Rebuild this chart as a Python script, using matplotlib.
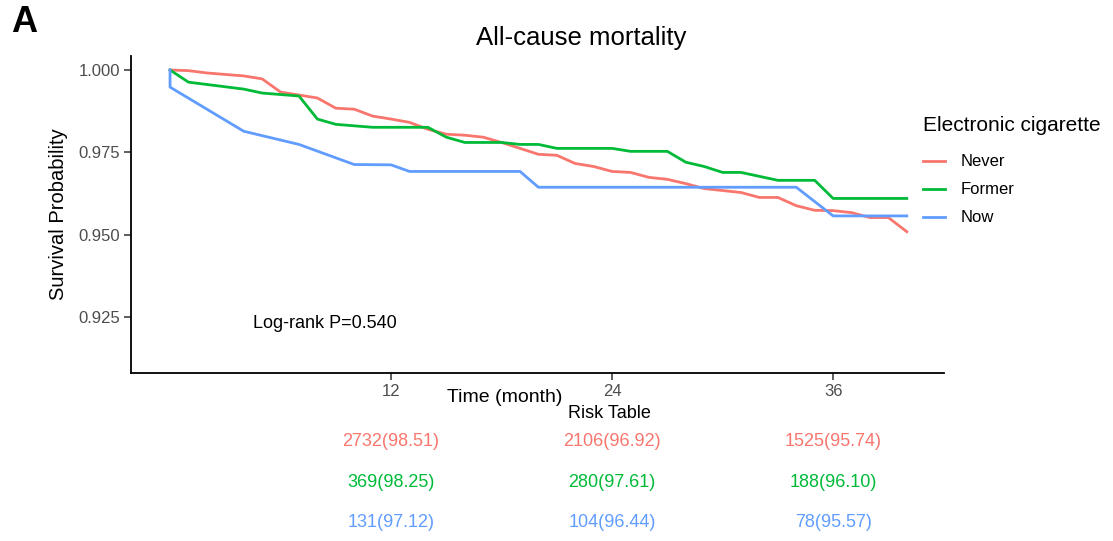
import matplotlib
matplotlib.use("Agg")
import matplotlib.pyplot as plt

plt.rcParams["font.family"] = ["Liberation Sans", "DejaVu Sans"]

# Kaplan-Meier estimates per group (month, survival)
groups = ["Never", "Former", "Now"]
colors = ["#F8766D", "#00BA38", "#619CFF"]

never_t = [0, 1, 2, 4, 5, 6, 7, 8, 9, 10, 11, 12, 13, 14, 15, 16, 17, 18, 19, 20,
           21, 22, 23, 24, 25, 26, 27, 28, 29, 30, 31, 32, 33, 34, 35, 36, 37, 38, 39, 40]
never_s = [1.000, 0.9998, 0.9991, 0.9982, 0.9973, 0.9933, 0.9924, 0.9915, 0.9884, 0.9881,
           0.9860, 0.9851, 0.9841, 0.9820, 0.9805, 0.9802, 0.9796, 0.9780, 0.9762, 0.9744,
           0.9741, 0.9716, 0.9707, 0.9692, 0.9689, 0.9674, 0.9668, 0.9655, 0.9640, 0.9634,
           0.9628, 0.9613, 0.9613, 0.9588, 0.9574, 0.9573, 0.9567, 0.9552, 0.9552, 0.9509]

former_t = [0, 1, 4, 5, 7, 8, 9, 11, 14, 15, 16, 18, 19, 20, 21, 24, 25, 27, 28, 29,
            30, 31, 32, 33, 35, 36, 40]
former_s = [1.000, 0.9963, 0.9942, 0.9930, 0.9921, 0.9851, 0.9835, 0.9826, 0.9826, 0.9796,
            0.9780, 0.9780, 0.9774, 0.9774, 0.9762, 0.9762, 0.9753, 0.9753, 0.9720, 0.9707,
            0.9689, 0.9689, 0.9677, 0.9665, 0.9665, 0.9610, 0.9610]

now_t = [0, 0, 4, 7, 10, 12, 13, 19, 20, 34, 36, 40]
now_s = [1.000, 0.9948, 0.9814, 0.9774, 0.9713, 0.9712, 0.9692, 0.9692, 0.9644, 0.9644,
         0.9557, 0.9557]

# risk table: number at risk (survival %) at 12/24/36 months
table_times = [12, 24, 36]
never_risk = ["2732(98.51)", "2106(96.92)", "1525(95.74)"]
former_risk = ["369(98.25)", "280(97.61)", "188(96.10)"]
now_risk = ["131(97.12)", "104(96.44)", "78(95.57)"]

curves = [(never_t, never_s), (former_t, former_s), (now_t, now_s)]
risk_rows = [never_risk, former_risk, now_risk]

W, H = 1113, 541
fig = plt.figure(figsize=(W / 100, H / 100), dpi=100)

ax = fig.add_axes([131 / W, 1 - 373 / H, 813 / W, 317 / H])
for (t, s), name, c in zip(curves, groups, colors):
    ax.plot(t, s, color=c, lw=2.0, label=name, solid_joinstyle="round")

ax.set_xlim(-2.12, 42.02)
ax.set_ylim(0.9080, 1.00425)
ax.set_xticks(table_times)
ax.set_yticks([0.925, 0.950, 0.975, 1.000])
ax.set_yticklabels(["0.925", "0.950", "0.975", "1.000"])
for side in ["top", "right"]:
    ax.spines[side].set_visible(False)
for side in ["left", "bottom"]:
    ax.spines[side].set_linewidth(1.3)
ax.tick_params(axis="both", length=5, width=1.1, color="#333333",
               labelcolor="#4D4D4D", labelsize=12, pad=3)
ax.set_ylabel("Survival Probability", fontsize=14.5, labelpad=7)

ax.text(4.5, 0.9231, "Log-rank P=0.540", fontsize=13, va="center", ha="left")

fig.text(505 / W, 1 - 397 / H, "Time (month)", fontsize=14, ha="center", va="center")
fig.text(581 / W, 1 - 38 / H, "All-cause mortality", fontsize=18.5, ha="center", va="center")
fig.text(24 / W, 1 - 22 / H, "A", fontsize=26, fontweight="bold", ha="center", va="center")
fig.text(609 / W, 1 - 414 / H, "Risk Table", fontsize=13, ha="center", va="center")

leg = fig.legend(loc="upper left", bbox_to_anchor=(908 / W, 1 - 101 / H), frameon=False,
                 fontsize=12, title="Electronic cigarette", title_fontsize=15,
                 handlelength=1.3, handletextpad=0.95, labelspacing=0.78)
leg._legend_box.align = "left"
leg._legend_box.sep = 14

# risk table rows below the curves
tab = fig.add_axes([131 / W, 0, 813 / W, 121 / H])
tab.set_xlim(ax.get_xlim())
tab.set_ylim(0.560, 3.515)
tab.axis("off")
for row, (labels, c) in enumerate(zip(risk_rows, colors)):
    for x, lab in zip(table_times, labels):
        tab.text(x, 3 - row, lab, color=c, fontsize=13, ha="center", va="center")

fig.savefig("out.png", dpi=100)
